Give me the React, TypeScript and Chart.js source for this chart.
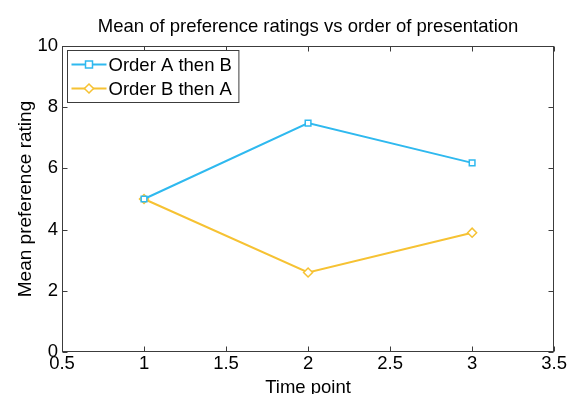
import React, { useEffect, useRef } from "react";
import { Chart, registerables } from "chart.js";

Chart.register(...registerables);

const chartTitle = "Mean of preference ratings vs order of presentation";
const xAxisLabel = "Time point";
const yAxisLabel = "Mean preference rating";
const timePoints = [1, 2, 3];
const orderAThenB = [5.0, 7.48, 6.18];
const orderBThenA = [5.0, 2.6, 3.9];
const seriesLabels = ["Order A then B", "Order B then A"];
const seriesColors = ["#2fb9ef", "#f6c233"];
const seriesMarkers = ["rect", "rectRot"];
const xTicks = [0.5, 1, 1.5, 2, 2.5, 3, 3.5];
const yTicks = [0, 2, 4, 6, 8, 10];

const FONT = "'Liberation Sans', Arial, sans-serif";
const FS = 18.5;

function drawMarker(ctx: CanvasRenderingContext2D, style: string, x: number, y: number, r: number) {
  ctx.beginPath();
  if (style === "rect") {
    ctx.rect(x - r, y - r, 2 * r, 2 * r);
  } else {
    ctx.moveTo(x, y - r * 1.3);
    ctx.lineTo(x + r * 1.3, y);
    ctx.lineTo(x, y + r * 1.3);
    ctx.lineTo(x - r * 1.3, y);
    ctx.closePath();
  }
  ctx.fill();
  ctx.stroke();
}

const framePlugin = {
  id: "matlabFrame",
  beforeDatasetsDraw(chart: any) {
    const { ctx, chartArea } = chart;
    const { left, right, top, bottom } = chartArea;
    const xs = chart.scales.x;
    const ys = chart.scales.y;
    ctx.save();
    ctx.strokeStyle = "#3c3c3c";
    ctx.lineWidth = 1;
    const L = Math.round(left) + 0.5;
    const R = Math.round(right) - 0.5;
    const T = Math.round(top) + 0.5;
    const B = Math.round(bottom) - 0.5;
    ctx.strokeRect(L, T, R - L, B - T);
    const tl = 5;
    ctx.beginPath();
    for (const v of xTicks) {
      const px = Math.round(xs.getPixelForValue(v)) + 0.5;
      ctx.moveTo(px, B);
      ctx.lineTo(px, B - tl);
      ctx.moveTo(px, T);
      ctx.lineTo(px, T + tl);
    }
    for (const v of yTicks) {
      const py = Math.round(ys.getPixelForValue(v)) + 0.5;
      ctx.moveTo(L, py);
      ctx.lineTo(L + tl, py);
      ctx.moveTo(R, py);
      ctx.lineTo(R - tl, py);
    }
    ctx.stroke();
    ctx.restore();
  },
};

const legendPlugin = {
  id: "matlabLegend",
  afterDraw(chart: any) {
    const { ctx, chartArea } = chart;
    const bx = Math.round(chartArea.left) + 5.5;
    const by = Math.round(chartArea.top) + 4.5;
    ctx.save();
    ctx.font = `${FS}px ${FONT}`;
    const textX = bx + 41;
    let maxW = 0;
    for (const s of seriesLabels) maxW = Math.max(maxW, ctx.measureText(s).width);
    const bw = textX + maxW + 7 - bx;
    const bh = 52;
    ctx.fillStyle = "#ffffff";
    ctx.fillRect(bx, by, bw, bh);
    ctx.strokeStyle = "#3c3c3c";
    ctx.lineWidth = 1;
    ctx.strokeRect(bx, by, bw, bh);
    seriesLabels.forEach((label, i) => {
      const ry = by + 14 + i * 24;
      ctx.strokeStyle = seriesColors[i];
      ctx.lineWidth = 2;
      ctx.beginPath();
      ctx.moveTo(bx + 4, ry);
      ctx.lineTo(bx + 39, ry);
      ctx.stroke();
      ctx.fillStyle = "#ffffff";
      ctx.lineWidth = 1.5;
      drawMarker(ctx, seriesMarkers[i], bx + 21.5, ry, 3.5);
      ctx.fillStyle = "#000000";
      ctx.textAlign = "left";
      ctx.textBaseline = "middle";
      ctx.fillText(label, textX, ry + 1);
    });
    ctx.restore();
  },
};

export default function App() {
  const canvasRef = useRef<HTMLCanvasElement | null>(null);

  useEffect(() => {
    const canvas = canvasRef.current;
    if (!canvas) return;
    const series = [orderAThenB, orderBThenA];
    const chart = new Chart(canvas, {
      type: "line",
      data: {
        datasets: series.map((vals, i) => ({
          label: seriesLabels[i],
          data: timePoints.map((t, j) => ({ x: t, y: vals[j] })),
          borderColor: seriesColors[i],
          backgroundColor: "#ffffff",
          borderWidth: 2,
          pointStyle: seriesMarkers[i] as any,
          pointRadius: seriesMarkers[i] === "rect" ? 4 : 4.5,
          pointBorderWidth: 1.5,
          pointBorderColor: seriesColors[i],
          pointBackgroundColor: "#ffffff",
          tension: 0,
          fill: false,
        })),
      },
      options: {
        animation: false,
        responsive: false,
        devicePixelRatio: 1,
        layout: { padding: { left: 0, right: 13, top: 0, bottom: 0 } },
        plugins: {
          legend: { display: false },
          tooltip: { enabled: false },
          title: {
            display: true,
            text: chartTitle,
            fullSize: false,
            color: "#000000",
            font: { family: FONT, size: FS, weight: "normal" },
            padding: { top: 16, bottom: 7.8 },
          },
        },
        scales: {
          x: {
            type: "linear",
            min: 0.5,
            max: 3.5,
            afterBuildTicks: (scale: any) => {
              scale.ticks = xTicks.map((v) => ({ value: v }));
            },
            afterFit: (scale: any) => {
              scale.height = 42;
            },
            grid: { display: false, drawTicks: false },
            border: { display: false },
            ticks: {
              color: "#000000",
              font: { family: FONT, size: FS },
              padding: 1,
              maxRotation: 0,
              autoSkip: false,
              callback: (v: any) => String(Number(v)),
            },
            title: {
              display: true,
              text: xAxisLabel,
              color: "#000000",
              font: { family: FONT, size: FS },
              padding: { top: 0, bottom: -5 },
            },
          },
          y: {
            type: "linear",
            min: 0,
            max: 10,
            afterBuildTicks: (scale: any) => {
              scale.ticks = yTicks.map((v) => ({ value: v }));
            },
            afterFit: (scale: any) => {
              scale.width = 62;
            },
            grid: { display: false, drawTicks: false },
            border: { display: false },
            ticks: {
              color: "#000000",
              font: { family: FONT, size: FS },
              padding: 4,
              autoSkip: false,
              callback: (v: any) => String(Number(v)),
            },
            title: {
              display: true,
              text: yAxisLabel,
              color: "#000000",
              font: { family: FONT, size: 19 },
              padding: { top: 14, bottom: 0 },
            },
          },
        },
      },
      plugins: [framePlugin, legendPlugin],
    } as any);
    return () => chart.destroy();
  }, []);

  return (
    <div style={{ position: "fixed", left: 0, top: 0, width: 568, height: 394, background: "#ffffff" }}>
      <canvas ref={canvasRef} width={568} height={394} style={{ display: "block" }} />
    </div>
  );
}
